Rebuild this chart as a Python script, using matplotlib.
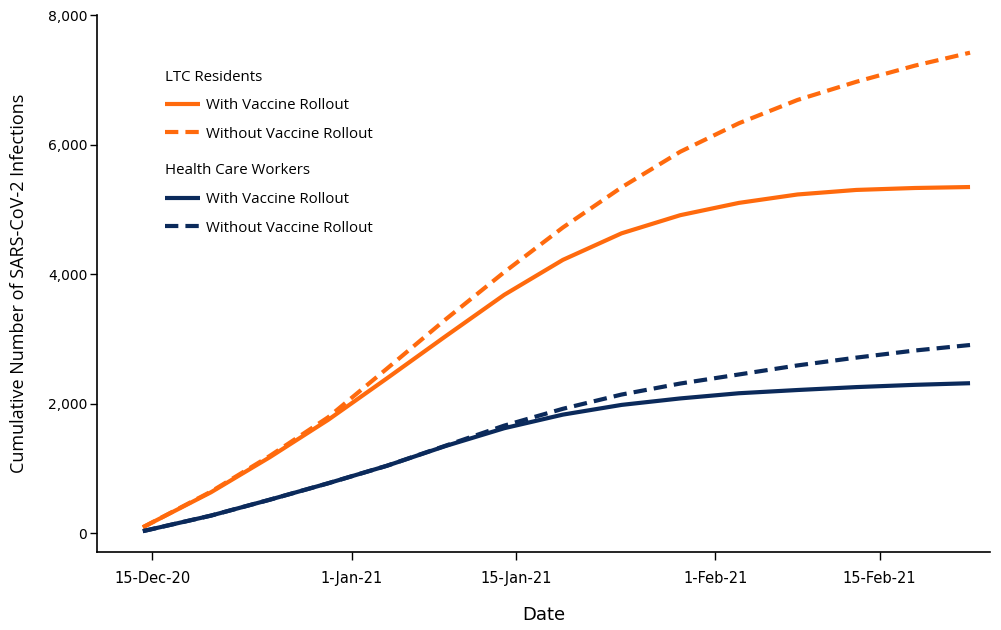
import matplotlib
matplotlib.use("Agg")
import matplotlib.pyplot as plt
import matplotlib.ticker as mticker
import pandas as pd

plt.rcParams["font.family"] = ["Open Sans", "DejaVu Sans"]

# days since 15-Dec-2020
days = [-0.8, 5, 10, 15, 20, 25, 30, 35, 40, 45, 50, 55, 60, 65, 69.7]
ltc_with = [90, 630, 1170, 1750, 2390, 3040, 3680, 4220, 4630, 4910, 5100, 5230, 5300, 5330, 5345]
ltc_without = [90, 640, 1190, 1790, 2540, 3300, 4030, 4720, 5340, 5890, 6330, 6690, 6970, 7220, 7420]
hcw_with = [30, 270, 515, 770, 1040, 1345, 1620, 1830, 1980, 2080, 2160, 2210, 2255, 2290, 2315]
hcw_without = [30, 270, 515, 770, 1040, 1350, 1660, 1920, 2140, 2310, 2450, 2590, 2710, 2820, 2905]

tick_dates = ["2020-12-15", "2021-01-01", "2021-01-15", "2021-02-01", "2021-02-15"]
tick_labels = ["15-Dec-20", "1-Jan-21", "15-Jan-21", "1-Feb-21", "15-Feb-21"]

ORANGE = "#ff6a0d"
NAVY = "#0b2a5b"

base = pd.Timestamp("2020-12-15")
dates = [base + pd.Timedelta(days=d) for d in days]

fig = plt.figure(figsize=(10.01, 6.30), dpi=100)
ax = fig.add_axes([0.097, 0.124, 0.892, 0.852])

dash = (3.2, 1.7)
l1, = ax.plot(dates, ltc_with, color=ORANGE, lw=3, solid_capstyle="butt")
l2, = ax.plot(dates, ltc_without, color=ORANGE, lw=3, dashes=dash)
l3, = ax.plot(dates, hcw_with, color=NAVY, lw=3, solid_capstyle="butt")
l4, = ax.plot(dates, hcw_without, color=NAVY, lw=3, dashes=dash)

ax.set_xlim(base - pd.Timedelta(days=4.7), base + pd.Timedelta(days=71.4))
ax.set_ylim(-290, 8000)

narrow = ["Liberation Sans Narrow", "DejaVu Sans"]
ax.set_xticks([pd.Timestamp(s) for s in tick_dates])
ax.set_xticklabels(tick_labels, family=narrow, fontsize=10.5)
ax.set_yticks([0, 2000, 4000, 6000, 8000])
ax.yaxis.set_major_formatter(mticker.FuncFormatter(lambda v, p: f"{int(v):,}"))
for lab in ax.get_yticklabels():
    lab.set_family("DejaVu Sans")
ax.tick_params(axis="y", labelsize=10, length=5, width=1, pad=2)
ax.tick_params(axis="x", length=6, width=1, pad=8)

for s in ["top", "right"]:
    ax.spines[s].set_visible(False)
for s in ["left", "bottom"]:
    ax.spines[s].set_linewidth(1.2)

ax.set_ylabel("Cumulative Number of SARS-CoV-2 Infections", fontsize=13, labelpad=14)
ax.set_xlabel("Date", fontsize=13, labelpad=14, family=narrow)

leg_kw = dict(loc="upper left", bbox_transform=fig.transFigure, frameon=False,
              fontsize=10.8, title_fontsize=10.8, alignment="left", handlelength=2.3,
              handletextpad=0.45, labelspacing=0.9, borderaxespad=0)
leg1 = ax.legend([l1, l2], ["With Vaccine Rollout", "Without Vaccine Rollout"],
                 title="LTC Residents", bbox_to_anchor=(0.159, 0.899), **leg_kw)
ax.add_artist(leg1)
ax.legend([l3, l4], ["With Vaccine Rollout", "Without Vaccine Rollout"],
          title="Health Care Workers", bbox_to_anchor=(0.159, 0.750), **leg_kw)

fig.savefig("out.png", dpi=100)
